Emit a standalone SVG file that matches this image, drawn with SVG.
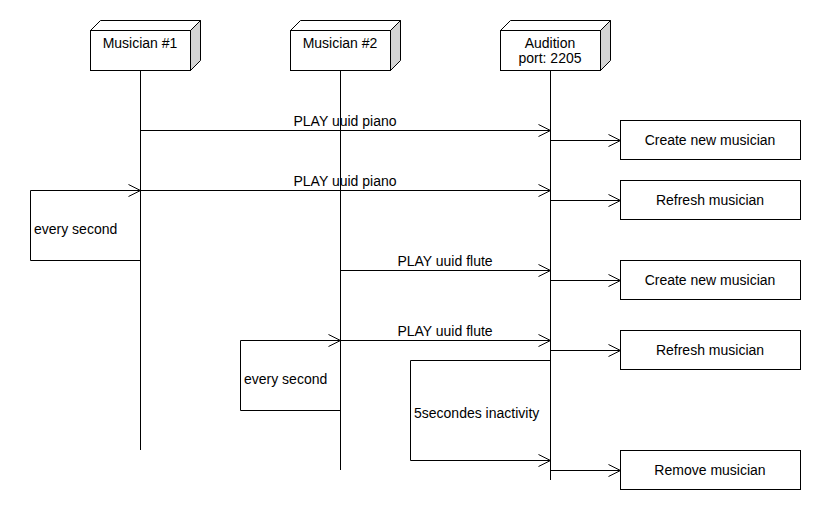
<svg xmlns="http://www.w3.org/2000/svg" width="820" height="520" viewBox="0 0 820 520">
<style>
text{font-family:"Liberation Sans",Arial,sans-serif;font-size:14px;fill:#000}
.c{text-anchor:middle}
.ln{stroke:#000;stroke-width:1;fill:none}
.box{stroke:#000;stroke-width:1;fill:#fff}
.side{stroke:#000;stroke-width:1;fill:#d4d4d4}
.top{stroke:#000;stroke-width:1;fill:#fff}
</style>
<defs>
<marker id="arr" markerUnits="userSpaceOnUse" markerWidth="14" markerHeight="14" refX="12" refY="7" orient="auto" overflow="visible">
<path d="M0,1 L12,7 L0,13" fill="none" stroke="#000" stroke-width="1"/>
</marker>
</defs>
<rect width="820" height="520" fill="#fff"/>
<g id="lifelines">
<line class="ln" x1="140.5" y1="70" x2="140.5" y2="450"/>
<line class="ln" x1="340.5" y1="70" x2="340.5" y2="470"/>
<line class="ln" x1="550.5" y1="70" x2="550.5" y2="480"/>
</g>
<g id="musician1">
<polygon class="top" points="90.5,30.5 100.5,20.5 200.5,20.5 190.5,30.5"/>
<polygon class="side" points="190.5,30.5 200.5,20.5 200.5,60.5 190.5,70.5"/>
<rect class="box" x="90.5" y="30.5" width="100" height="40"/>
<text class="c" x="140" y="48">Musician #1</text>
</g>
<g id="musician2">
<polygon class="top" points="290.5,30.5 300.5,20.5 400.5,20.5 390.5,30.5"/>
<polygon class="side" points="390.5,30.5 400.5,20.5 400.5,60.5 390.5,70.5"/>
<rect class="box" x="290.5" y="30.5" width="100" height="40"/>
<text class="c" x="340" y="48">Musician #2</text>
</g>
<g id="audition">
<polygon class="top" points="500.5,30.5 510.5,20.5 610.5,20.5 600.5,30.5"/>
<polygon class="side" points="600.5,30.5 610.5,20.5 610.5,60.5 600.5,70.5"/>
<rect class="box" x="500.5" y="30.5" width="100" height="40"/>
<text class="c" x="550" y="48">Audition</text>
<text class="c" x="550" y="63">port: 2205</text>
</g>
<g id="create1">
<rect class="box" x="620.5" y="120.5" width="180" height="39"/>
<text class="c" x="710" y="145">Create new musician</text>
</g>
<g id="refresh1">
<rect class="box" x="620.5" y="180.5" width="180" height="39"/>
<text class="c" x="710" y="205">Refresh musician</text>
</g>
<g id="create2">
<rect class="box" x="620.5" y="260.5" width="180" height="39"/>
<text class="c" x="710" y="285">Create new musician</text>
</g>
<g id="refresh2">
<rect class="box" x="620.5" y="330.5" width="180" height="39"/>
<text class="c" x="710" y="355">Refresh musician</text>
</g>
<g id="remove">
<rect class="box" x="620.5" y="450.5" width="180" height="39"/>
<text class="c" x="710" y="475">Remove musician</text>
</g>
<g id="connectors">
<line class="ln" x1="140.5" y1="130.5" x2="550.5" y2="130.5" marker-end="url(#arr)"/>
<text class="c" x="345" y="126">PLAY uuid piano</text>
<line class="ln" x1="550.5" y1="140.5" x2="620.5" y2="140.5" marker-end="url(#arr)"/>
<line class="ln" x1="140.5" y1="190.5" x2="550.5" y2="190.5" marker-end="url(#arr)"/>
<text class="c" x="345" y="186">PLAY uuid piano</text>
<path class="ln" d="M140.5,260.5 H30.5 V190.5 H140.5" marker-end="url(#arr)"/>
<text x="34" y="234">every second</text>
<line class="ln" x1="550.5" y1="200.5" x2="620.5" y2="200.5" marker-end="url(#arr)"/>
<line class="ln" x1="340.5" y1="270.5" x2="550.5" y2="270.5" marker-end="url(#arr)"/>
<text class="c" x="445" y="266">PLAY uuid flute</text>
<line class="ln" x1="550.5" y1="280.5" x2="620.5" y2="280.5" marker-end="url(#arr)"/>
<line class="ln" x1="340.5" y1="340.5" x2="550.5" y2="340.5" marker-end="url(#arr)"/>
<text class="c" x="445" y="336">PLAY uuid flute</text>
<path class="ln" d="M340.5,410.5 H240.5 V340.5 H340.5" marker-end="url(#arr)"/>
<text x="244" y="384">every second</text>
<line class="ln" x1="550.5" y1="350.5" x2="620.5" y2="350.5" marker-end="url(#arr)"/>
<path class="ln" d="M550.5,360.5 H410.5 V460.5 H550.5" marker-end="url(#arr)"/>
<text x="414" y="418">5secondes inactivity</text>
<line class="ln" x1="550.5" y1="470.5" x2="620.5" y2="470.5" marker-end="url(#arr)"/>
</g>
</svg>
